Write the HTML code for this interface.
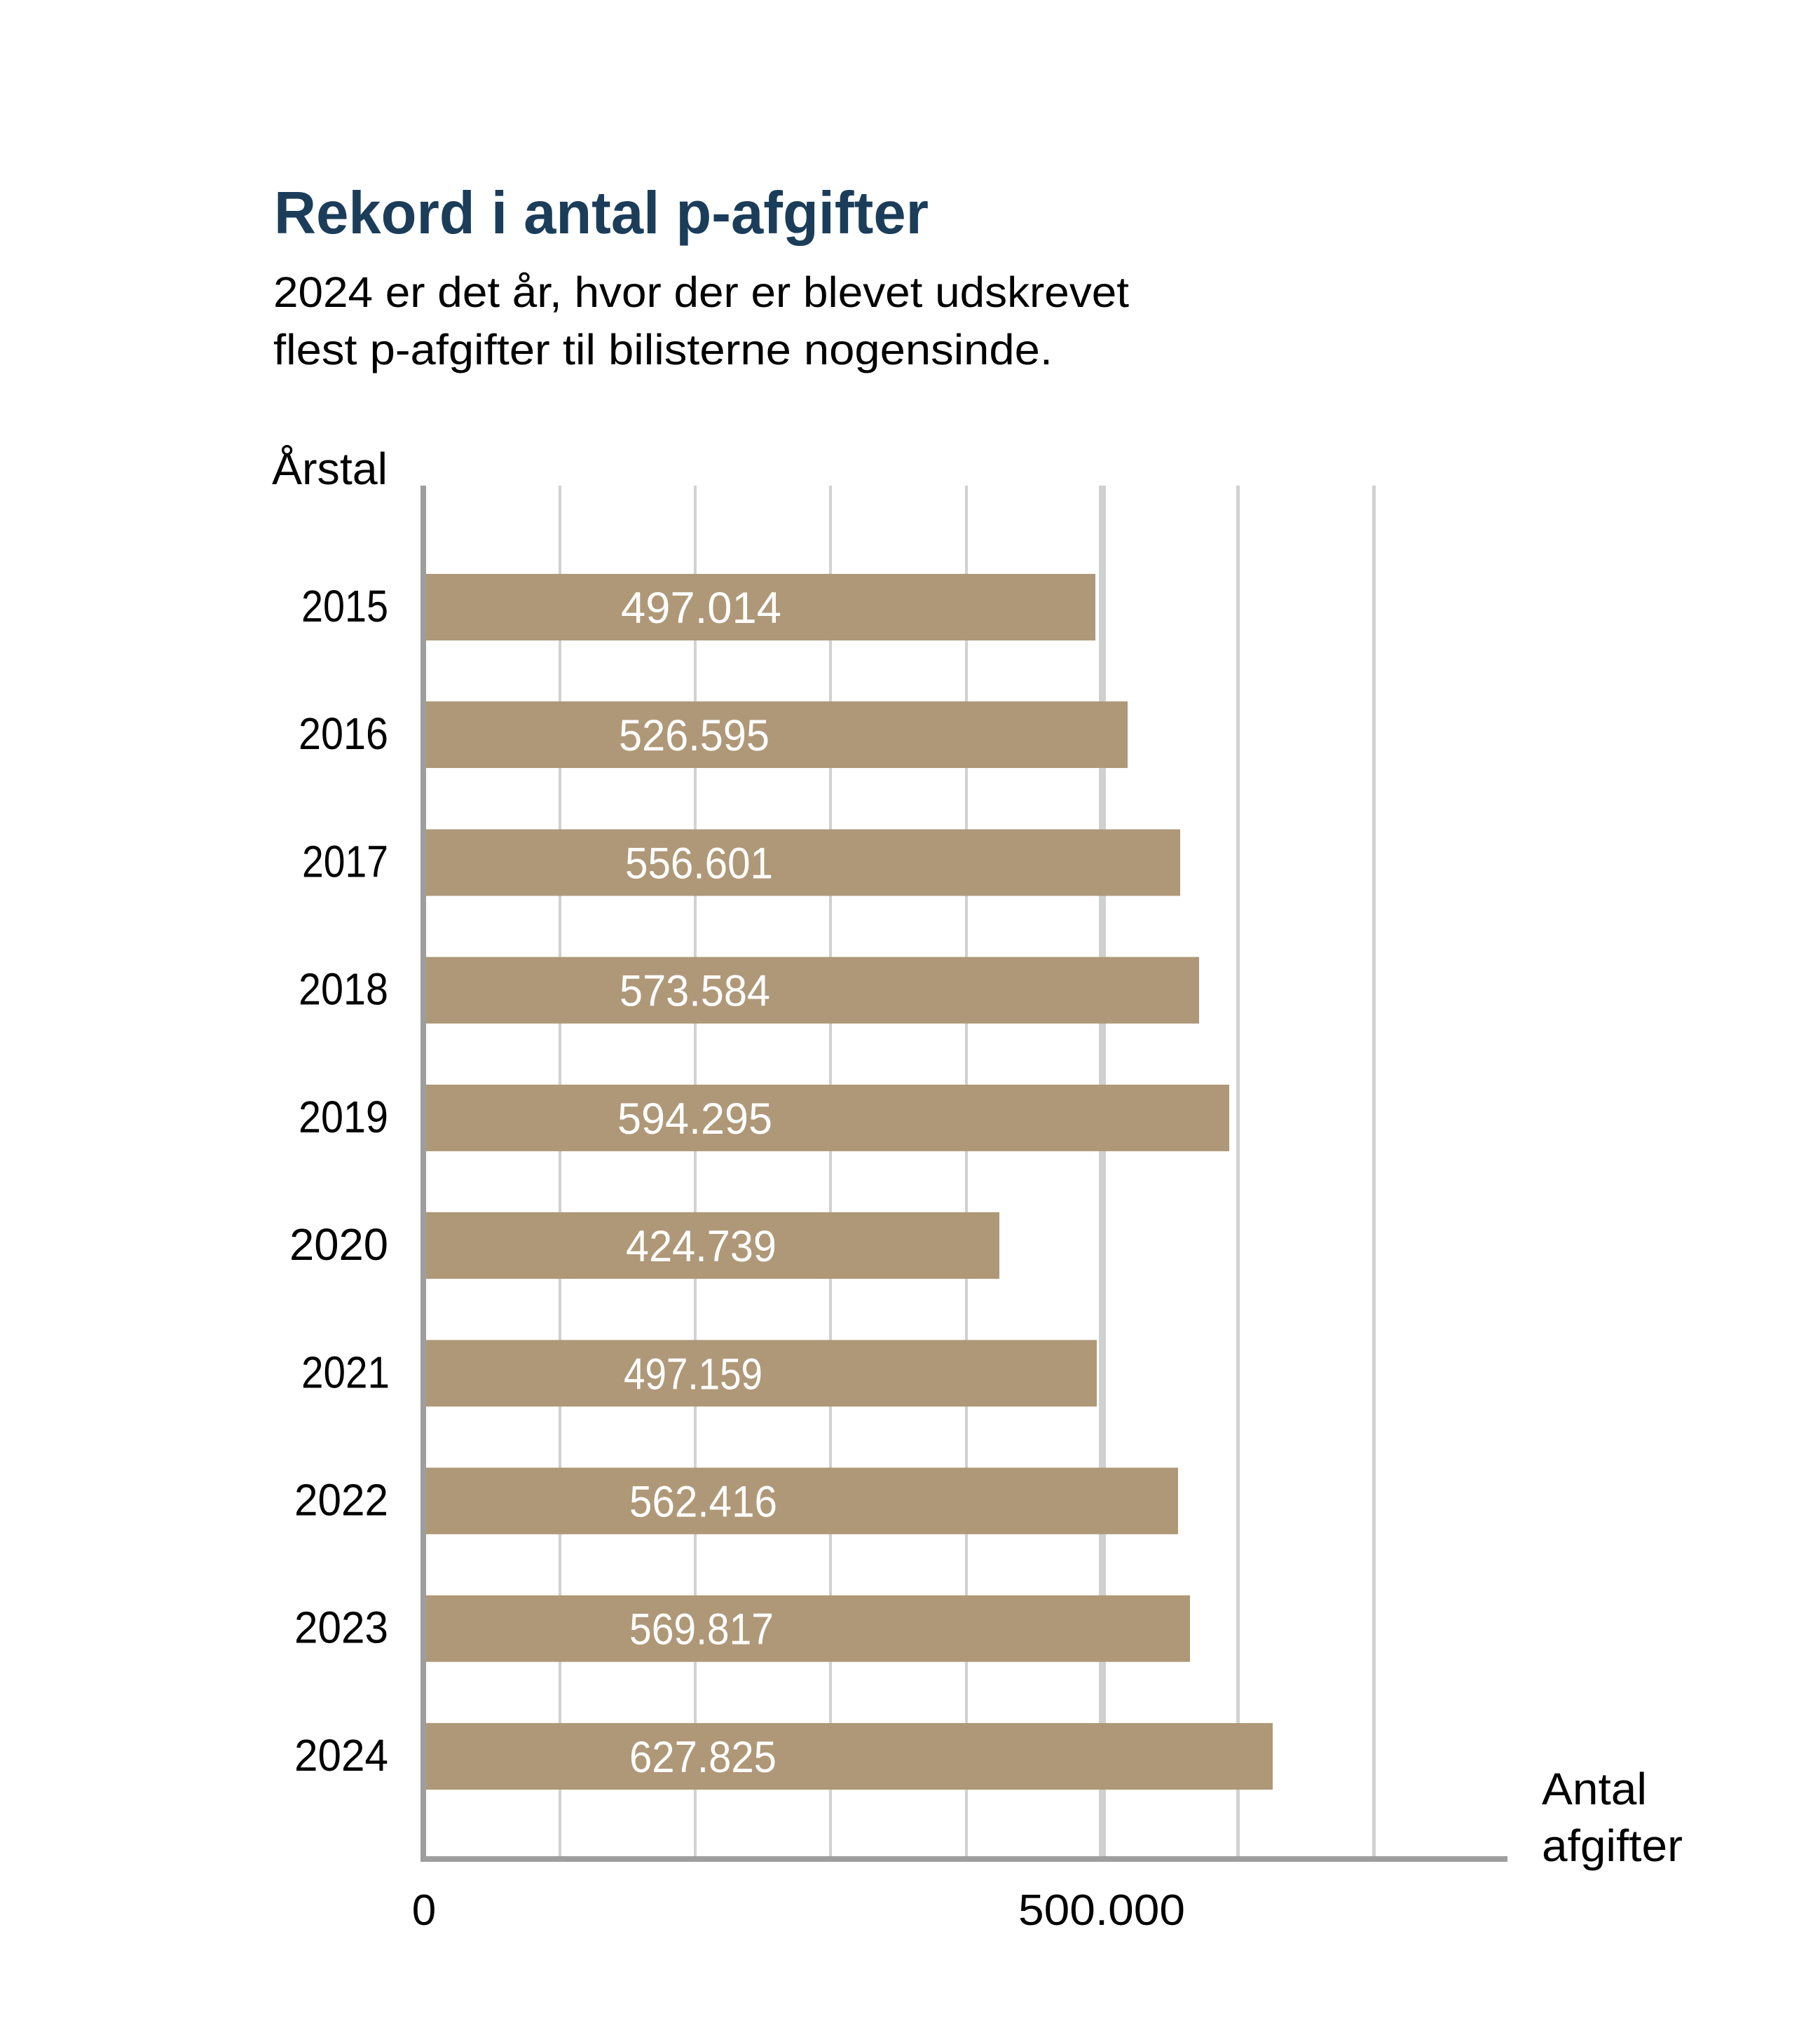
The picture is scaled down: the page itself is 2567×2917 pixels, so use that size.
<!DOCTYPE html>
<html>
<head>
<meta charset="utf-8">
<style>
html,body{margin:0;padding:0;background:#fff;}
svg{display:block;}
text{font-family:"Liberation Sans",sans-serif;}
</style>
</head>
<body>
<svg width="2567" height="2917" viewBox="0 0 2567 2917" xmlns="http://www.w3.org/2000/svg">
<rect width="2567" height="2917" fill="#ffffff"/>

<!-- Title -->
<text x="391" y="333" font-size="85" font-weight="bold" fill="#1b3d5a" textLength="934" lengthAdjust="spacingAndGlyphs">Rekord i antal p-afgifter</text>
<!-- Subtitle -->
<text x="390" y="438" font-size="61" fill="#000" textLength="1221" lengthAdjust="spacingAndGlyphs">2024 er det år, hvor der er blevet udskrevet</text>
<text x="390" y="520" font-size="61" fill="#000" textLength="1112" lengthAdjust="spacingAndGlyphs">flest p-afgifter til bilisterne nogensinde.</text>

<!-- Y axis title -->
<text x="388" y="691" font-size="64" fill="#000" textLength="165" lengthAdjust="spacingAndGlyphs">Årstal</text>

<!-- Gridlines -->
<g fill="#d1d1d1">
<rect x="797" y="693" width="4" height="1957"/>
<rect x="990" y="693" width="4" height="1957"/>
<rect x="1183" y="693" width="4" height="1957"/>
<rect x="1377" y="693" width="4" height="1957"/>
<rect x="1568" y="693" width="10" height="1957" fill="#cfd1d1"/>
<rect x="1764" y="693" width="5" height="1957"/>
<rect x="1958" y="693" width="5" height="1957"/>
</g>

<!-- Bars -->
<g fill="#af9878">
<rect x="604" y="819" width="959" height="95"/>
<rect x="604" y="1001" width="1005" height="95"/>
<rect x="604" y="1183.5" width="1080" height="95"/>
<rect x="604" y="1365.7" width="1107" height="95"/>
<rect x="604" y="1547.9" width="1150" height="95"/>
<rect x="604" y="1730" width="822" height="95"/>
<rect x="604" y="1912.3" width="961" height="95"/>
<rect x="604" y="2094.5" width="1077" height="95"/>
<rect x="604" y="2276.7" width="1094" height="95"/>
<rect x="604" y="2459" width="1212" height="95"/>
</g>

<!-- Axes -->
<rect x="600" y="693" width="8" height="1964" fill="#9e9e9e"/>
<rect x="600" y="2649" width="1551" height="8" fill="#9e9e9e"/>

<!-- Value labels -->
<g font-size="63" fill="#ffffff">
<text x="886" y="889" textLength="229" lengthAdjust="spacingAndGlyphs">497.014</text>
<text x="883" y="1071" textLength="215" lengthAdjust="spacingAndGlyphs">526.595</text>
<text x="892" y="1253.5" textLength="211" lengthAdjust="spacingAndGlyphs">556.601</text>
<text x="884" y="1435.7" textLength="215" lengthAdjust="spacingAndGlyphs">573.584</text>
<text x="881" y="1617.9" textLength="221" lengthAdjust="spacingAndGlyphs">594.295</text>
<text x="893" y="1800" textLength="215" lengthAdjust="spacingAndGlyphs">424.739</text>
<text x="890" y="1982.3" textLength="198" lengthAdjust="spacingAndGlyphs">497.159</text>
<text x="898" y="2164.5" textLength="211" lengthAdjust="spacingAndGlyphs">562.416</text>
<text x="898" y="2346.7" textLength="206" lengthAdjust="spacingAndGlyphs">569.817</text>
<text x="898" y="2529" textLength="210" lengthAdjust="spacingAndGlyphs">627.825</text>
</g>

<!-- Year labels -->
<g font-size="64" fill="#000">
<text x="430" y="887" textLength="124" lengthAdjust="spacingAndGlyphs">2015</text>
<text x="426" y="1069" textLength="128" lengthAdjust="spacingAndGlyphs">2016</text>
<text x="431" y="1251.5" textLength="123" lengthAdjust="spacingAndGlyphs">2017</text>
<text x="426" y="1433.7" textLength="128" lengthAdjust="spacingAndGlyphs">2018</text>
<text x="426" y="1615.9" textLength="128" lengthAdjust="spacingAndGlyphs">2019</text>
<text x="413" y="1798" textLength="141" lengthAdjust="spacingAndGlyphs">2020</text>
<text x="430" y="1980.3" textLength="126" lengthAdjust="spacingAndGlyphs">2021</text>
<text x="420" y="2162.5" textLength="134" lengthAdjust="spacingAndGlyphs">2022</text>
<text x="420" y="2344.7" textLength="134" lengthAdjust="spacingAndGlyphs">2023</text>
<text x="420" y="2527" textLength="134" lengthAdjust="spacingAndGlyphs">2024</text>
</g>

<!-- X axis labels -->
<text x="605" y="2747" font-size="62" fill="#000" text-anchor="middle">0</text>
<text x="1453" y="2747" font-size="62" fill="#000" textLength="238" lengthAdjust="spacingAndGlyphs">500.000</text>
<text x="2200" y="2575" font-size="64" fill="#000" textLength="150" lengthAdjust="spacingAndGlyphs">Antal</text>
<text x="2200" y="2656" font-size="64" fill="#000" textLength="201" lengthAdjust="spacingAndGlyphs">afgifter</text>
</svg>
</body>
</html>
